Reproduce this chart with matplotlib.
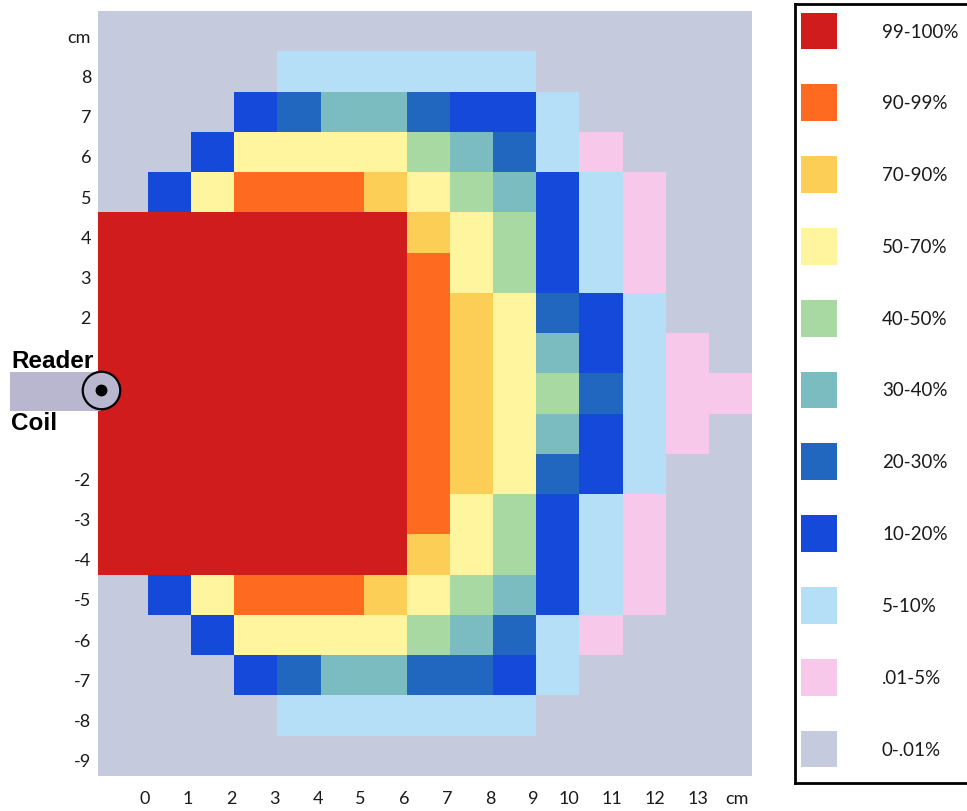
import numpy as np
import matplotlib
matplotlib.use("Agg")
import matplotlib.pyplot as plt
from matplotlib.colors import ListedColormap, BoundaryNorm
from matplotlib.lines import Line2D
from matplotlib.patches import Rectangle

#====================== DATA ============================================

# band labels, lowest to highest
bands = ["0-.01%", ".01-5%", "5-10%", "10-20%", "20-30%", "30-40%",
         "40-50%", "50-70%", "70-90%", "90-99%", "99-100%"]

band_colors = ["#c6cadd", "#f8c8ea", "#b5def7", "#1549d9", "#2167bf",
               "#7bbcc0", "#a9d9a2", "#fff59e", "#fdce55", "#fd6a20",
               "#d01c1c"]

# rows from y = 9 (top) down to y = -9, columns from left edge to x = 13
y_rows = list(range(9, -10, -1))
grid = [
    [0, 0, 0, 0, 0, 0, 0, 0, 0, 0, 0, 0, 0, 0, 0],          # 9
    [0, 0, 0, 0, 2, 2, 2, 2, 2, 2, 0, 0, 0, 0, 0],          # 8
    [0, 0, 0, 3, 4, 5, 5, 4, 3, 3, 2, 0, 0, 0, 0],          # 7
    [0, 0, 3, 7, 7, 7, 7, 6, 5, 4, 2, 1, 0, 0, 0],          # 6
    [0, 3, 7, 9, 9, 9, 8, 7, 6, 5, 3, 2, 1, 0, 0],          # 5
    [10, 10, 10, 10, 10, 10, 10, 8, 7, 6, 3, 2, 1, 0, 0],   # 4
    [10, 10, 10, 10, 10, 10, 10, 9, 7, 6, 3, 2, 1, 0, 0],   # 3
    [10, 10, 10, 10, 10, 10, 10, 9, 8, 7, 4, 3, 2, 0, 0],   # 2
    [10, 10, 10, 10, 10, 10, 10, 9, 8, 7, 5, 3, 2, 1, 0],   # 1
    [10, 10, 10, 10, 10, 10, 10, 9, 8, 7, 6, 4, 2, 1, 1],   # 0
    [10, 10, 10, 10, 10, 10, 10, 9, 8, 7, 5, 3, 2, 1, 0],   # -1
    [10, 10, 10, 10, 10, 10, 10, 9, 8, 7, 4, 3, 2, 0, 0],   # -2
    [10, 10, 10, 10, 10, 10, 10, 9, 7, 6, 3, 2, 1, 0, 0],   # -3
    [10, 10, 10, 10, 10, 10, 10, 8, 7, 6, 3, 2, 1, 0, 0],   # -4
    [0, 3, 7, 9, 9, 9, 8, 7, 6, 5, 3, 2, 1, 0, 0],          # -5
    [0, 0, 3, 7, 7, 7, 7, 6, 5, 4, 2, 1, 0, 0, 0],          # -6
    [0, 0, 0, 3, 4, 5, 5, 4, 4, 3, 2, 0, 0, 0, 0],          # -7
    [0, 0, 0, 0, 2, 2, 2, 2, 2, 2, 0, 0, 0, 0, 0],          # -8
    [0, 0, 0, 0, 0, 0, 0, 0, 0, 0, 0, 0, 0, 0, 0],          # -9
]

x_labels = [str(i) for i in range(14)] + ["cm"]
y_labels = ["cm", "8", "7", "6", "5", "4", "3", "2",
            "-2", "-3", "-4", "-5", "-6", "-7", "-8", "-9"]
y_label_vals = [9, 8, 7, 6, 5, 4, 3, 2, -2, -3, -4, -5, -6, -7, -8, -9]

#====================== PLOT ============================================

plt.rcParams['font.family'] = ['Lato', 'DejaVu Sans']

fig = plt.figure(figsize=(9.67, 8.12), dpi=100)
W, H = 967, 812

ax = fig.add_axes([98 / W, 35 / H, 654 / W, 765 / H])

cmap = ListedColormap(band_colors)
norm = BoundaryNorm(np.arange(-0.5, len(bands)), cmap.N)

Z = np.flipud(np.array(grid))
x_edges = np.arange(-1, 15).astype(float)
x_edges[0] = -1.16                     # first column is a bit wider
y_edges = np.arange(min(y_rows) - 0.5, max(y_rows) + 1.5)
ax.pcolormesh(x_edges, y_edges, Z, cmap=cmap, norm=norm, shading="flat")

ax.set_xlim(-1.16, 14)
ax.set_ylim(-9.5, 9.5)
for s in ax.spines.values():
    s.set_visible(False)

xoff = np.where(np.arange(15) >= 10, 0.25, 0.07)
xoff[-1] = 0.35
ax.set_xticks(np.arange(15) - xoff)
ax.set_xticklabels(x_labels)
ax.set_yticks(np.array(y_label_vals) - 0.1)
ax.set_yticklabels(y_labels)
ax.tick_params(axis="x", length=0, pad=10, labelsize=13, colors="#1a1a1a")
ax.tick_params(axis="y", length=0, pad=5, labelsize=13, colors="#1a1a1a")

# reader coil sketch on the left
coil_gray = "#b9b6cf"
fig.add_artist(Rectangle((10 / W, 1 - 412 / H), 91 / W, 39 / H,
                         transform=fig.transFigure, facecolor=coil_gray,
                         edgecolor="none"))
fig.add_artist(Line2D([101 / W], [1 - 391 / H], transform=fig.transFigure,
                      marker="o", markersize=27, markerfacecolor=coil_gray,
                      markeredgecolor="black", markeredgewidth=1.6))
fig.add_artist(Line2D([101 / W], [1 - 391 / H], transform=fig.transFigure,
                      marker="o", markersize=7.5, color="black"))
fig.text(11 / W, 1 - 362 / H, "Reader", fontsize=17.5, fontweight="bold",
         family=["Liberation Sans", "DejaVu Sans"], va="center", ha="left")
fig.text(11 / W, 1 - 424 / H, "Coil", fontsize=17.5, fontweight="bold",
         family=["Liberation Sans", "DejaVu Sans"], va="center", ha="left")

# legend box on the right
lax = fig.add_axes([795 / W, 28 / H, 210 / W, 779 / H])
lax.set_xlim(795, 1005)
lax.set_ylim(784, 5)
lax.set_xticks([])
lax.set_yticks([])
for s in lax.spines.values():
    s.set_linewidth(2)
    s.set_color("black")

order = list(range(len(bands)))[::-1]
ypos = 32 + 71.8 * np.arange(len(bands))
lax.scatter(np.full(len(bands), 819), ypos, marker="s", s=700,
            c=[band_colors[i] for i in order], linewidths=0)
for yy, i in zip(ypos, order):
    lax.text(882, yy, bands[i], fontsize=13.5, va="center", ha="left",
             color="#1a1a1a")

fig.savefig("out.png", dpi=100)
